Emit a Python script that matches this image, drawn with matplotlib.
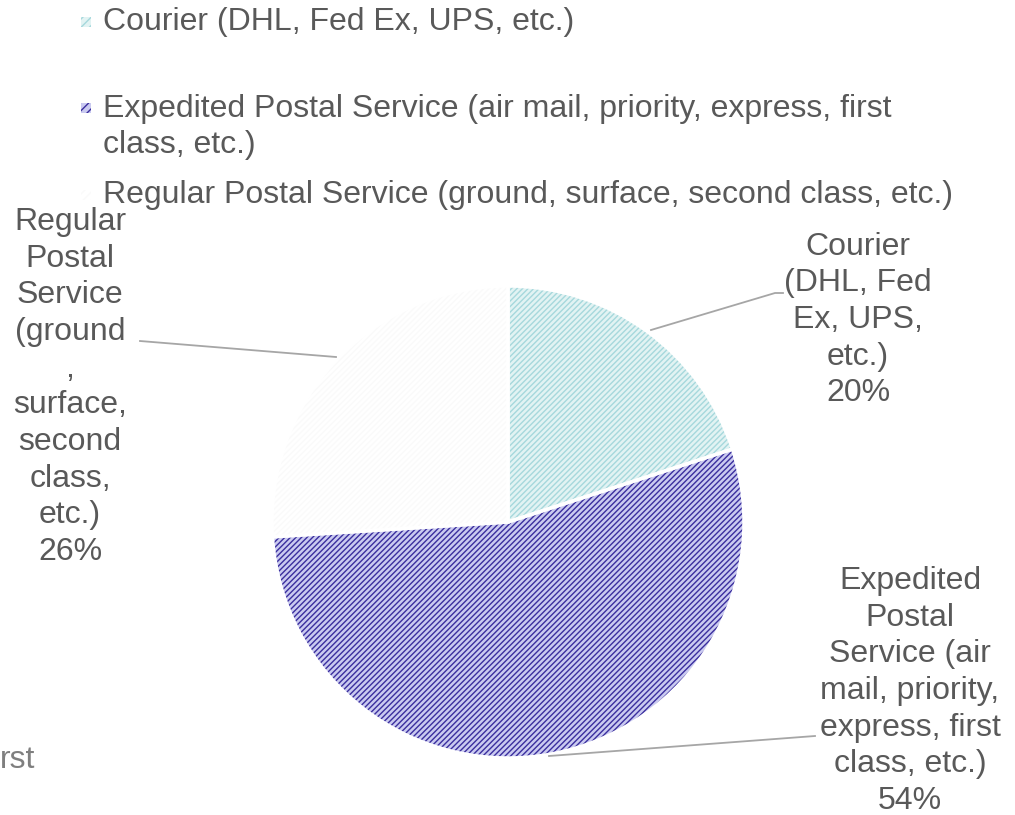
import matplotlib
matplotlib.use("Agg")
import matplotlib.pyplot as plt
from matplotlib.patches import Rectangle

plt.rcParams['font.family'] = ['Liberation Sans', 'DejaVu Sans']
plt.rcParams['hatch.linewidth'] = 1.0

categories = ["Courier (DHL, Fed Ex, UPS, etc.)",
              "Expedited Postal Service (air mail, priority, express, first class, etc.)",
              "Regular Postal Service (ground, surface, second class, etc.)"]
values = [20, 54, 26]
face_colors = ["#e2f3f3", "#cacaf0", "#ffffff"]
hatch_colors = ["#a6d8dc", "#3a2e9e", "#fafafa"]
legend_texts = ["Courier (DHL, Fed Ex, UPS, etc.)",
                "Expedited Postal Service (air mail, priority, express, first\nclass, etc.)",
                "Regular Postal Service (ground, surface, second class, etc.)"]
label_texts = ["Courier\n(DHL, Fed\nEx, UPS,\netc.)\n20%",
               "Expedited\nPostal\nService (air\nmail, priority,\nexpress, first\nclass, etc.)\n54%",
               "Regular\nPostal\nService\n(ground\n,\nsurface,\nsecond\nclass,\netc.)\n26%"]

W, H = 1015, 815
fig = plt.figure(figsize=(W / 100, H / 100), dpi=100)

def fx(x):
    return x / W

def fy(y):
    return 1 - y / H

cx, cy, r = 508, 522, 236
ax = fig.add_axes([fx(cx - r), fy(cy + r), 2 * r / W, 2 * r / H])

TXT = "#595959"
FS = 23
LS = 1.29
HATCH = '//////'

wedges, _ = ax.pie(values, startangle=90, counterclock=False, radius=1,
                   colors=face_colors, wedgeprops=dict(linewidth=0))
for w, hc in zip(wedges, hatch_colors):
    w.set_hatch(HATCH)
    w.set_edgecolor(hc)
    w.set_linewidth(0)
ax.pie(values, startangle=90, counterclock=False, radius=1,
       wedgeprops=dict(fill=False, edgecolor='white', linewidth=2.5))
ax.set_xlim(-1, 1)
ax.set_ylim(-1, 1)
ax.axis('off')

# legend
leg_y = [22, 108, 195]
leg_text_y = [22, 127, 195]
for y, ty, txt, fc, hc in zip(leg_y, leg_text_y, legend_texts, face_colors, hatch_colors):
    rect = Rectangle((fx(81), fy(y + 5)), 10 / W, 10 / H, transform=fig.transFigure,
                     facecolor=fc, edgecolor=hc, hatch='////', linewidth=0)
    fig.add_artist(rect)
    fig.text(fx(103), fy(ty), txt, ha='left', va='center',
             fontsize=FS, color=TXT, linespacing=LS)

# data labels
lab_pos = [(858, 320), (910, 691), (70, 387)]
for (x, y), t in zip(lab_pos, label_texts):
    fig.text(fx(x), fy(y), t, ha='center', va='center', fontsize=FS, color=TXT,
             linespacing=LS)

# leader lines
leaders = [[(651, 330), (775, 293), (783, 293)],
           [(549, 756), (815, 736)],
           [(336, 357), (140, 341)]]
for pts in leaders:
    fig.add_artist(plt.Line2D([fx(p[0]) for p in pts], [fy(p[1]) for p in pts],
                              transform=fig.transFigure, color="#a6a6a6", linewidth=1.3))

fig.text(fx(0), fy(760), "rst", ha='left', va='center', fontsize=FS, color="#7f7f7f")

fig.savefig("out.png", dpi=100)
